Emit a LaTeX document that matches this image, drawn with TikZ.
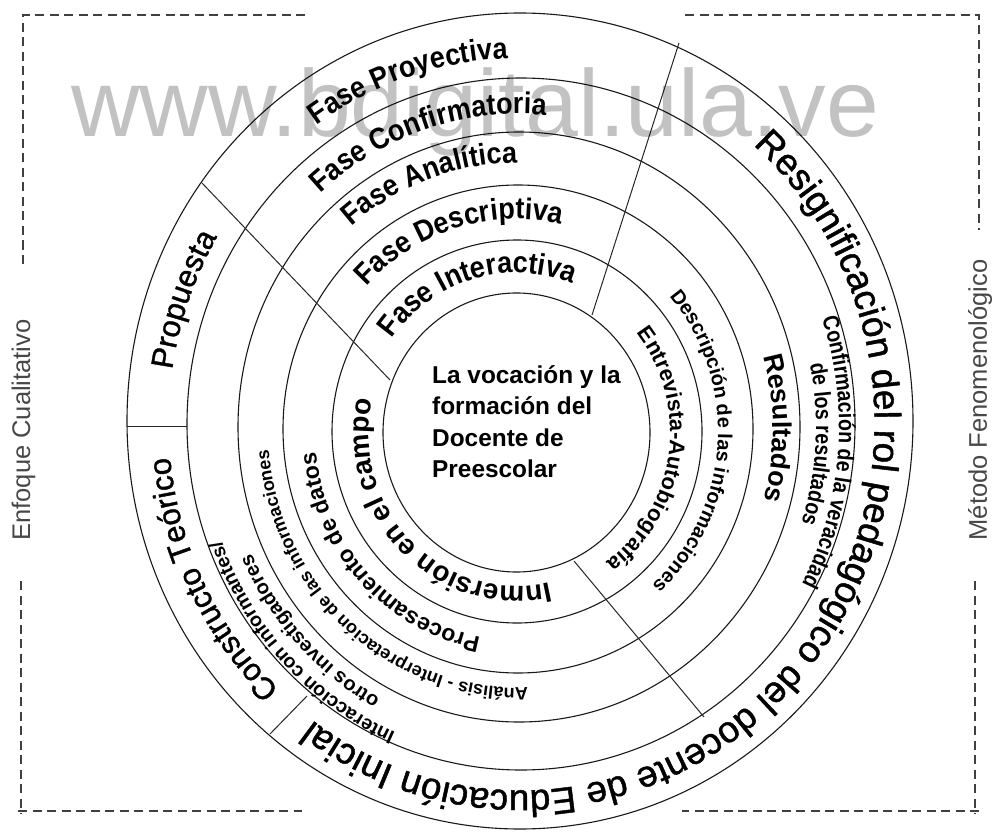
\documentclass[tikz,border=0pt]{standalone}
\usepackage{fontspec}
\setmainfont{Liberation Sans}
\newfontfamily\narrowfont[FakeStretch=0.85]{Liberation Sans}
\newfontfamily\tallfont[FakeStretch=0.9]{Liberation Sans}
\newfontfamily\heavyfont[FakeBold=1.2]{Liberation Sans}
\usetikzlibrary{decorations.text}

% text set along a clockwise elliptic arc, centred on a given angle
% #1 cx, #2 cy (downwards), #3 rx, #4 ry, #5 mid angle, #6 half span, #7 font, #8 text
\newcommand{\ringtext}[8]{%
  \path[decorate, decoration={text along path, text align=center, text={|#7|#8}}]
    ({#1+#3*cos(#5+#6)},{-#2+#4*sin(#5+#6)})
    arc[start angle={#5+#6}, end angle={#5-#6}, x radius=#3pt, y radius=#4pt];%
}
\newcommand{\fasefont}{\tallfont\bfseries\fontsize{30}{30}\selectfont}
\newcommand{\outerfont}{\heavyfont\fontsize{37}{37}\selectfont}
\newcommand{\sidefont}{\heavyfont\fontsize{31}{31}\selectfont}

\begin{document}
\begin{tikzpicture}[x=1pt, y=1pt,
  ring/.style={line width=1.1pt, draw=black!90},
  divider/.style={line width=1pt, draw=black!85},
  frame/.style={line width=1.2pt, draw=black!75, dash pattern=on 9pt off 5.5pt},
  coretext/.style={font=\bfseries\fontsize{24.4}{24.4}\selectfont, inner sep=0pt, anchor=base west},
  sidelabel/.style={font=\fontsize{25.5}{25.5}\selectfont, text=black!72, inner sep=0pt, rotate=90}]
\useasboundingbox (0,0) rectangle (992,-834);

% dashed frame
\draw[frame] (305,-15) -- (23,-15) -- (23,-267);
\draw[frame] (21,-581) -- (21,-814);
\draw[frame] (18,-811) -- (302,-811);
\draw[frame] (685,-15) -- (979,-15) -- (979,-230);
\draw[frame] (975,-581) -- (975,-814);
\draw[frame] (979,-811) -- (682,-811);

\node[sidelabel] (enfoque) at (23.5,-430) {Enfoque Cualitativo};
\node[sidelabel] (metodo) at (980,-400) {Método Fenomenológico};

% rings
\draw[ring] (516.5,-432.5) ellipse[x radius=133.5pt, y radius=139.5pt];
\draw[ring] (517,-431.5) ellipse[x radius=185pt, y radius=191.5pt];
\draw[ring] (518,-429) ellipse[x radius=235pt, y radius=244pt];
\draw[ring] (519,-427) ellipse[x radius=281pt, y radius=295pt];
\draw[ring] (521,-424) ellipse[x radius=334pt, y radius=346pt];
\draw[ring] (520,-421) ellipse[x radius=393pt, y radius=408pt];

% section dividers
\coordinate (ul-out) at (202,-183); \coordinate (ul-in) at (390,-380);
\coordinate (ur-out) at (679,-43);  \coordinate (ur-in) at (592,-315);
\coordinate (lr-in) at (574,-561);  \coordinate (lr-out) at (704,-717);
\coordinate (ll-in) at (307,-696);  \coordinate (ll-out) at (270,-734);
\coordinate (lh-out) at (127,-426); \coordinate (lh-in) at (187,-426);
\draw[divider] (ul-out) -- (ul-in);
\draw[divider] (ur-out) -- (ur-in);
\draw[divider] (lr-in) -- (lr-out);
\draw[divider] (ll-in) -- (ll-out);
\draw[divider] (lh-out) -- (lh-in);

% phases along the top
\ringtext{516.5}{432.5}{153.5}{159.5}{106}{70}{\fasefont}{Fase Interactiva}
\ringtext{517}{431.5}{206}{212.5}{107}{60}{\fasefont}{Fase Descriptiva}
\ringtext{518}{429}{257}{266}{110}{50}{\fasefont}{Fase Analítica}
\ringtext{519}{427}{299}{313}{108}{45}{\fasefont}{Fase Confirmatoria}
\ringtext{521}{424}{354}{366}{108.5}{40}{\fasefont}{Fase Proyectiva}

% right side
\ringtext{516.5}{432.5}{153.5}{159.5}{-8}{70}{\bfseries\fontsize{22}{22}\selectfont}{Entrevista-Autobiografía}
\ringtext{517}{431.5}{201}{207.5}{-3.6}{70}{\bfseries\fontsize{20}{20}\selectfont}{Descripción de las informaciones}
\ringtext{518}{429}{255}{264}{0.2}{40}{\bfseries\fontsize{27}{27}\selectfont}{Resultados}
\ringtext{519}{427}{320}{335}{-4.6}{45}{\narrowfont\bfseries\fontsize{23}{23}\selectfont}{Confirmación de la veracidad}
\ringtext{519}{427}{297}{311}{-3.2}{35}{\narrowfont\bfseries\fontsize{23}{23}\selectfont}{de los resultados}
\ringtext{520.5}{422.5}{354}{368}{-38.5}{100}{\outerfont}{Resignificación del rol pedagógico del docente de Educación Inicial}

% lower left
\ringtext{516.5}{432.5}{148}{154}{-134.5}{80}{\bfseries\fontsize{28}{28}\selectfont}{Inmersión en el campo}
\ringtext{517}{431.5}{202}{209}{-137}{60}{\bfseries\fontsize{23}{23}\selectfont}{Procesamiento de datos}
\ringtext{518}{429}{250}{259}{-131.2}{70}{\bfseries\fontsize{18}{18}\selectfont}{Análisis - Interpretación de las informaciones}
\ringtext{520}{426}{318}{333}{-136}{45}{\bfseries\fontsize{19.5}{19.5}\selectfont}{Interacción con informantes/}
\ringtext{520}{426}{295}{309}{-136.5}{40}{\bfseries\fontsize{20}{20}\selectfont}{otros investigadores}
\ringtext{520.5}{422.5}{352}{366}{206.3}{35}{\sidefont}{Constructo Teórico}
\ringtext{520.5}{422.5}{352}{366}{160.5}{25}{\sidefont}{Propuesta}

% core
\node[coretext] (core1) at (432,-383) {La vocación y la};
\node[coretext] (core2) at (432,-414) {formación del};
\node[coretext] (core3) at (432,-446) {Docente de};
\node[coretext] (core4) at (432,-477) {Preescolar};

% site mark
\node[font=\fontsize{95}{95}\selectfont, text=black, text opacity=0.24, inner sep=0pt, anchor=base west] (mark) at (71,-137) {www.bdigital.ula.ve};
\end{tikzpicture}
\end{document}
